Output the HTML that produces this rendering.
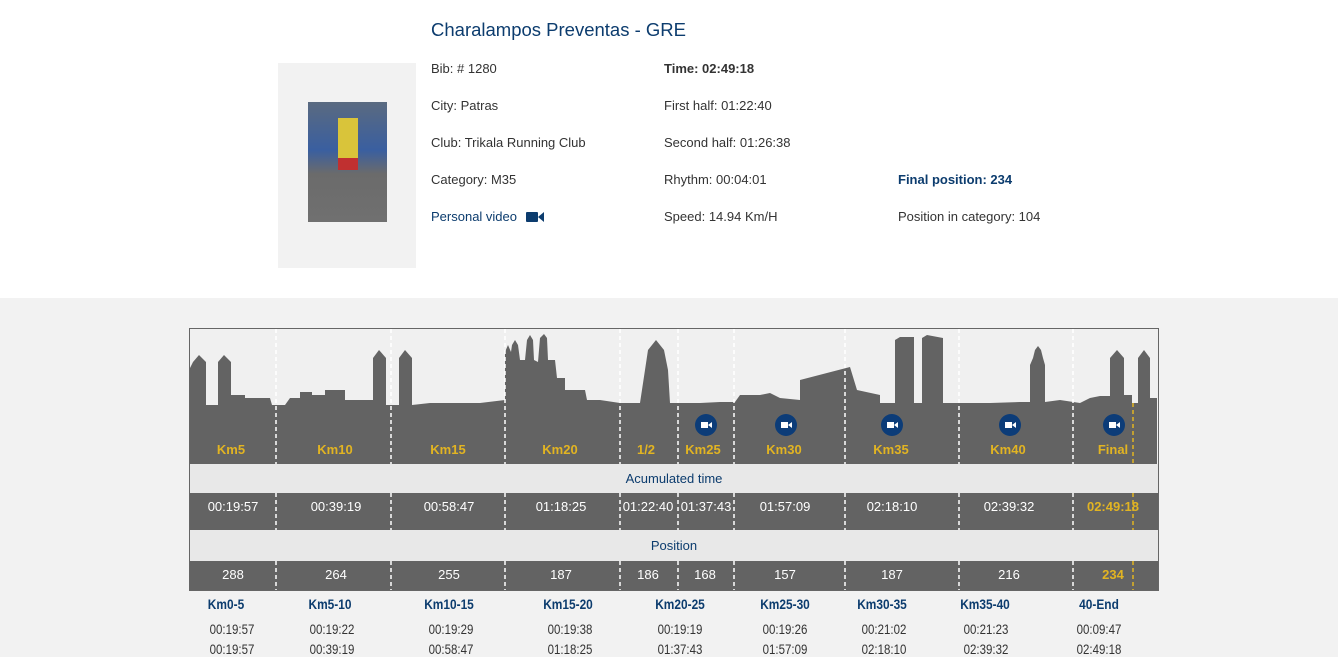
<!DOCTYPE html>
<html><head><meta charset="utf-8"><style>
*{margin:0;padding:0;box-sizing:border-box}
body{width:1338px;height:657px;overflow:hidden;background:#f2f2f2;font-family:"Liberation Sans",sans-serif;position:relative}
.top{position:absolute;left:0;top:0;width:1338px;height:298px;background:#fff}
.t{position:absolute;font-size:13px;color:#333;white-space:nowrap;line-height:16px}
.c{position:absolute;transform:translateX(-50%);white-space:nowrap;line-height:16px}
.lab{color:#e2b422;font-weight:bold;font-size:13px}
.w{color:#fff;font-size:13px}
.bh{color:#0c3c6e;font-weight:bold;font-size:14px;transform:translateX(-50%) scaleX(0.85)}
.bv{color:#333;font-size:14px;transform:translateX(-50%) scaleX(0.82)}
</style></head><body>
<div class="top"></div>
<div style="position:absolute;left:278px;top:63px;width:138px;height:205px;background:#f2f2f2"></div>
<div style="position:absolute;left:308px;top:102px;width:79px;height:120px;background:linear-gradient(#5a6a80 0%,#3a5fa0 40%,#6b6b6b 60%,#707070 100%)"></div>
<div style="position:absolute;left:338px;top:118px;width:20px;height:40px;background:#d9c43a"></div>
<div style="position:absolute;left:338px;top:158px;width:20px;height:12px;background:#c03030"></div>
<div class="t" style="left:431px;top:20px;font-size:18.5px;color:#0c3c6e;line-height:20px">Charalampos Preventas - GRE</div>
<div class="t" style="left:431px;top:61px">Bib: # 1280</div>
<div class="t" style="left:431px;top:98px">City: Patras</div>
<div class="t" style="left:431px;top:135px">Club: Trikala Running Club</div>
<div class="t" style="left:431px;top:172px">Category: M35</div>
<div class="t" style="left:431px;top:209px;color:#0c3c6e">Personal video <span style="display:inline-block;width:12px;height:10px;background:#0c3c6e;margin-left:5px;vertical-align:-1px;border-radius:1px"></span><span style="display:inline-block;width:0;height:0;border-top:5px solid transparent;border-bottom:5px solid transparent;border-right:6px solid #0c3c6e;vertical-align:-1px"></span></div>
<div class="t" style="left:664px;top:61px;font-weight:bold">Time: 02:49:18</div>
<div class="t" style="left:664px;top:98px">First half: 01:22:40</div>
<div class="t" style="left:664px;top:135px">Second half: 01:26:38</div>
<div class="t" style="left:664px;top:172px">Rhythm: 00:04:01</div>
<div class="t" style="left:664px;top:209px">Speed: 14.94 Km/H</div>
<div class="t" style="left:898px;top:172px;font-weight:bold;color:#0c3c6e">Final position: 234</div>
<div class="t" style="left:898px;top:209px">Position in category: 104</div>

<svg style="position:absolute;left:0;top:0" width="1338" height="657">
<rect x="189.5" y="328.5" width="969" height="262" fill="#f0f0f0" stroke="#666"/>
<polygon fill="#636363" points="190,410 190,368 193,362 199,355 206,362 206,405 218,405 218,362 224,355 231,362 231,395 245,395 245,398 270,398 272,405 285,405 290,398 300,398 300,392 312,392 312,395 325,395 325,390 345,390 345,400 373,400 373,358 379,350 386,358 386,405 399,405 399,358 405,350 412,358 412,405 430,403 480,403 505,400 505,352 508,345 511,352 512,345 515,340 518,345 520,360 525,360 527,340 530,335 533,340 534,360 538,362 540,338 544,334 547,338 548,360 555,360 557,378 565,378 565,390 585,390 587,400 600,400 620,403 640,403 645,370 648,350 656,340 664,350 668,370 670,403 700,403 720,402 735,402 740,395 760,395 770,393 780,398 800,400 800,380 850,367 857,390 880,395 880,403 895,403 895,340 900,337 914,337 914,403 922,403 922,338 927,335 943,338 943,403 960,403 990,403 1020,402 1030,402 1030,365 1033,358 1035,350 1038,346 1041,350 1043,358 1045,365 1045,402 1060,400 1080,403 1090,398 1100,396 1110,396 1110,358 1117,350 1124,358 1124,395 1132,395 1132,403 1138,403 1138,358 1144,350 1150,358 1150,398 1157,398 1157,464 190,464"/>
<rect x="190" y="464" width="968" height="29" fill="#e8e8e8"/>
<rect x="190" y="493" width="968" height="37" fill="#636363"/>
<rect x="190" y="530" width="968" height="31" fill="#e8e8e8"/>
<rect x="190" y="561" width="968" height="29" fill="#636363"/>
<g stroke="#fff" stroke-width="1.5" stroke-dasharray="4,3">
<line x1="276" y1="329" x2="276" y2="464"/><line x1="391" y1="329" x2="391" y2="464"/><line x1="505" y1="329" x2="505" y2="464"/><line x1="620" y1="329" x2="620" y2="464"/><line x1="678" y1="329" x2="678" y2="464"/><line x1="734" y1="329" x2="734" y2="464"/><line x1="845" y1="329" x2="845" y2="464"/><line x1="959" y1="329" x2="959" y2="464"/><line x1="1073" y1="329" x2="1073" y2="464"/>
<line x1="276" y1="493" x2="276" y2="530"/><line x1="391" y1="493" x2="391" y2="530"/><line x1="505" y1="493" x2="505" y2="530"/><line x1="620" y1="493" x2="620" y2="530"/><line x1="678" y1="493" x2="678" y2="530"/><line x1="734" y1="493" x2="734" y2="530"/><line x1="845" y1="493" x2="845" y2="530"/><line x1="959" y1="493" x2="959" y2="530"/><line x1="1073" y1="493" x2="1073" y2="530"/>
<line x1="276" y1="561" x2="276" y2="590"/><line x1="391" y1="561" x2="391" y2="590"/><line x1="505" y1="561" x2="505" y2="590"/><line x1="620" y1="561" x2="620" y2="590"/><line x1="678" y1="561" x2="678" y2="590"/><line x1="734" y1="561" x2="734" y2="590"/><line x1="845" y1="561" x2="845" y2="590"/><line x1="959" y1="561" x2="959" y2="590"/><line x1="1073" y1="561" x2="1073" y2="590"/>
</g>
<g stroke="#e2b422" stroke-width="1.5" stroke-dasharray="4,3">
<line x1="1133" y1="403" x2="1133" y2="464"/><line x1="1133" y1="493" x2="1133" y2="530"/><line x1="1133" y1="561" x2="1133" y2="590"/></g>
<g fill="#0c3c78"><circle cx="706" cy="425" r="11"/><circle cx="786" cy="425" r="11"/><circle cx="892" cy="425" r="11"/><circle cx="1010" cy="425" r="11"/><circle cx="1114" cy="425" r="11"/></g>
<g fill="#fff"><rect x="701" y="422" width="7" height="6"/><polygon points="708,425 712,422 712,428"/><rect x="781" y="422" width="7" height="6"/><polygon points="788,425 792,422 792,428"/><rect x="887" y="422" width="7" height="6"/><polygon points="894,425 898,422 898,428"/><rect x="1005" y="422" width="7" height="6"/><polygon points="1012,425 1016,422 1016,428"/><rect x="1109" y="422" width="7" height="6"/><polygon points="1116,425 1120,422 1120,428"/></g>
</svg>

<div class="c lab" style="left:231px;top:442px">Km5</div>
<div class="c lab" style="left:335px;top:442px">Km10</div>
<div class="c lab" style="left:448px;top:442px">Km15</div>
<div class="c lab" style="left:560px;top:442px">Km20</div>
<div class="c lab" style="left:646px;top:442px">1/2</div>
<div class="c lab" style="left:703px;top:442px">Km25</div>
<div class="c lab" style="left:784px;top:442px">Km30</div>
<div class="c lab" style="left:891px;top:442px">Km35</div>
<div class="c lab" style="left:1008px;top:442px">Km40</div>
<div class="c lab" style="left:1113px;top:442px">Final</div>

<div class="c" style="left:674px;top:471px;font-size:13px;color:#0c3c6e">Acumulated time</div>
<div class="c" style="left:674px;top:538px;font-size:13px;color:#0c3c6e">Position</div>

<div class="c w" style="left:233px;top:499px">00:19:57</div>
<div class="c w" style="left:336px;top:499px">00:39:19</div>
<div class="c w" style="left:449px;top:499px">00:58:47</div>
<div class="c w" style="left:561px;top:499px">01:18:25</div>
<div class="c w" style="left:648px;top:499px">01:22:40</div>
<div class="c w" style="left:706px;top:499px">01:37:43</div>
<div class="c w" style="left:785px;top:499px">01:57:09</div>
<div class="c w" style="left:892px;top:499px">02:18:10</div>
<div class="c w" style="left:1009px;top:499px">02:39:32</div>
<div class="c w" style="left:1113px;top:499px;color:#e2b422;font-weight:bold">02:49:18</div>

<div class="c w" style="left:233px;top:567px">288</div>
<div class="c w" style="left:336px;top:567px">264</div>
<div class="c w" style="left:449px;top:567px">255</div>
<div class="c w" style="left:561px;top:567px">187</div>
<div class="c w" style="left:648px;top:567px">186</div>
<div class="c w" style="left:705px;top:567px">168</div>
<div class="c w" style="left:785px;top:567px">157</div>
<div class="c w" style="left:892px;top:567px">187</div>
<div class="c w" style="left:1009px;top:567px">216</div>
<div class="c w" style="left:1113px;top:567px;color:#e2b422;font-weight:bold">234</div>

<div class="c bh" style="left:226px;top:596px">Km0-5</div>
<div class="c bh" style="left:330px;top:596px">Km5-10</div>
<div class="c bh" style="left:449px;top:596px">Km10-15</div>
<div class="c bh" style="left:568px;top:596px">Km15-20</div>
<div class="c bh" style="left:680px;top:596px">Km20-25</div>
<div class="c bh" style="left:785px;top:596px">Km25-30</div>
<div class="c bh" style="left:882px;top:596px">Km30-35</div>
<div class="c bh" style="left:985px;top:596px">Km35-40</div>
<div class="c bh" style="left:1099px;top:596px">40-End</div>

<div class="c bv" style="left:232px;top:621px">00:19:57</div>
<div class="c bv" style="left:332px;top:621px">00:19:22</div>
<div class="c bv" style="left:451px;top:621px">00:19:29</div>
<div class="c bv" style="left:570px;top:621px">00:19:38</div>
<div class="c bv" style="left:680px;top:621px">00:19:19</div>
<div class="c bv" style="left:785px;top:621px">00:19:26</div>
<div class="c bv" style="left:884px;top:621px">00:21:02</div>
<div class="c bv" style="left:986px;top:621px">00:21:23</div>
<div class="c bv" style="left:1099px;top:621px">00:09:47</div>

<div class="c bv" style="left:232px;top:641px">00:19:57</div>
<div class="c bv" style="left:332px;top:641px">00:39:19</div>
<div class="c bv" style="left:451px;top:641px">00:58:47</div>
<div class="c bv" style="left:570px;top:641px">01:18:25</div>
<div class="c bv" style="left:680px;top:641px">01:37:43</div>
<div class="c bv" style="left:785px;top:641px">01:57:09</div>
<div class="c bv" style="left:884px;top:641px">02:18:10</div>
<div class="c bv" style="left:986px;top:641px">02:39:32</div>
<div class="c bv" style="left:1099px;top:641px">02:49:18</div>
</body></html>
